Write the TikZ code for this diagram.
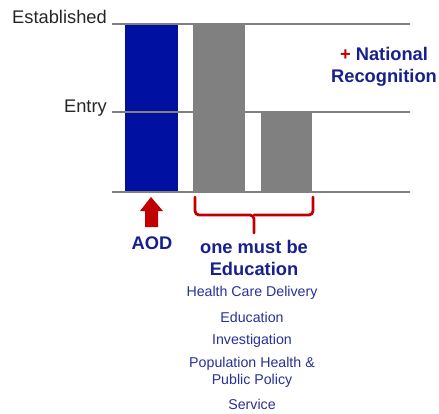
\documentclass[tikz,border=0pt]{standalone}
\usepackage{fontspec}
\setmainfont{Liberation Sans}
\usetikzlibrary{arrows.meta}
\definecolor{barblue}{RGB}{0,16,160}
\definecolor{txtblue}{RGB}{24,32,140}
\definecolor{lightblue}{RGB}{40,48,150}
\definecolor{myred}{RGB}{192,0,0}
\definecolor{bargray}{RGB}{128,128,128}
\tikzset{
  level/.style={draw=bargray,line width=2.2pt},
  lvllabel/.style={anchor=east,inner sep=0pt,font=\fontsize{18.3}{20}\selectfont,text=black!85},
  bigblue/.style={inner sep=0pt,font=\fontsize{18.3}{22.5}\selectfont\bfseries,text=txtblue,align=center},
  listitem/.style={inner sep=0pt,font=\fontsize{14.2}{17}\selectfont,text=lightblue,align=center},
}
\begin{document}
\begin{tikzpicture}[x=1pt,y=-1pt]
\useasboundingbox (0,0) rectangle (439,413);
% bars
\fill[barblue] (125,24) rectangle (178,192);
\fill[bargray] (193,24) rectangle (245,192);
\fill[bargray] (261,112) rectangle (312,192);
% level lines
\coordinate (tl) at (112,24); \coordinate (tr) at (410,24);
\coordinate (ml) at (112,112); \coordinate (mr) at (410,112);
\coordinate (bl) at (112,192); \coordinate (br) at (410,192);
\draw[level] (tl) -- (tr);
\draw[level] (ml) -- (mr);
\draw[level] (bl) -- (br);
% level labels
\node[lvllabel] (est) at (107,17) {Established};
\node[lvllabel] (entry) at (107,108) {Entry};
% national recognition
\node[bigblue] (nat) at (384,67) {{\color{myred}+} National\\Recognition};
% arrow
\fill[myred] (145,227) -- (145,211) -- (140,211) -- (151,197) -- (163,211) -- (158,211) -- (158,227) -- cycle;
\node[bigblue] (aod) at (152,243) {AOD};
% brace
\draw[myred,line width=2.8pt,rounded corners=4pt,line cap=round]
  (195,197) -- (195,215) -- (254,215) -- (254,233);
\draw[myred,line width=2.8pt,rounded corners=4pt,line cap=round]
  (313,197) -- (313,215) -- (254,215);
\node[bigblue] (must) at (254,258) {one must be\\Education};
% list
\node[listitem] (l1) at (252,293) {Health Care Delivery};
\node[listitem] (l2) at (252,317) {Education};
\node[listitem] (l3) at (252,341) {Investigation};
\node[listitem] (l4) at (252,372.5) {Population Health \&\\Public Policy};
\node[listitem] (l5) at (252,404) {Service};
\end{tikzpicture}
\end{document}
